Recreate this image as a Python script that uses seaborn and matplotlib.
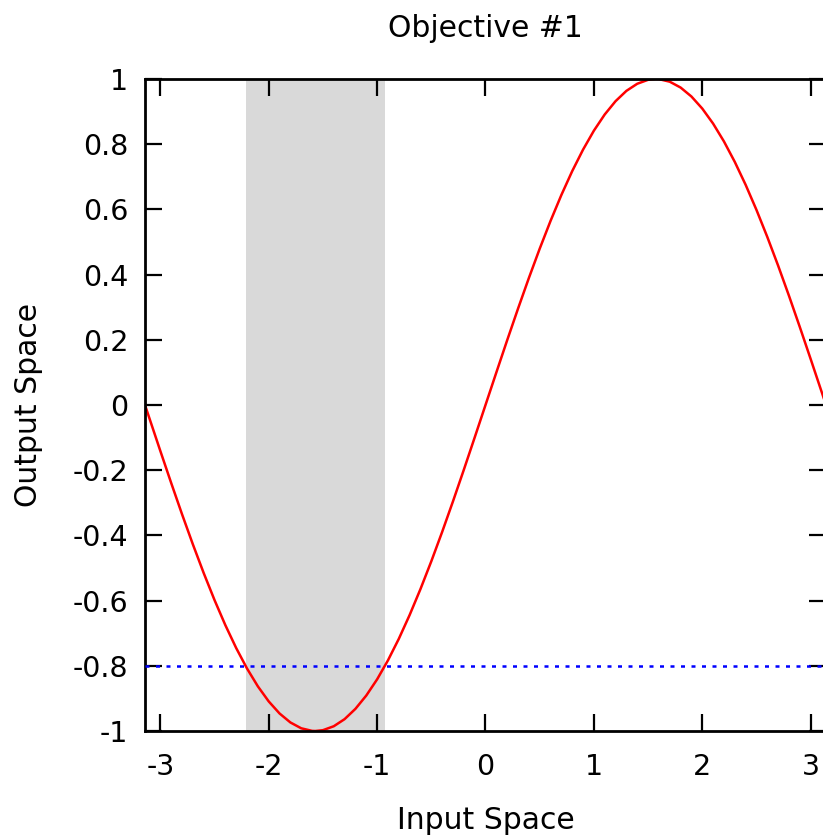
import matplotlib
matplotlib.use('Agg')
import matplotlib.pyplot as plt
import seaborn as sns

# curve values
x_vals = [-3.1416, -3.1, -3.0, -2.9, -2.8, -2.7, -2.6, -2.5, -2.4, -2.3, -2.2, -2.1,
          -2.0, -1.9, -1.8, -1.7, -1.6, -1.5708, -1.5, -1.4, -1.3, -1.2, -1.1, -1.0,
          -0.9, -0.8, -0.7, -0.6, -0.5, -0.4, -0.3, -0.2, -0.1, 0.0,
          0.1, 0.2, 0.3, 0.4, 0.5, 0.6, 0.7, 0.8, 0.9, 1.0, 1.1, 1.2, 1.3, 1.4, 1.5,
          1.5708, 1.6, 1.7, 1.8, 1.9, 2.0, 2.1, 2.2, 2.3, 2.4, 2.5, 2.6, 2.7, 2.8,
          2.9, 3.0, 3.1, 3.1416]
y_vals = [0.0, -0.0416, -0.1411, -0.2392, -0.3350, -0.4274, -0.5155, -0.5985, -0.6755, -0.7457,
          -0.8085, -0.8632, -0.9093, -0.9463, -0.9738, -0.9917, -0.9996, -1.0, -0.9975, -0.9854,
          -0.9636, -0.9320, -0.8912, -0.8415, -0.7833, -0.7174, -0.6442, -0.5646, -0.4794,
          -0.3894, -0.2955, -0.1987, -0.0998, 0.0,
          0.0998, 0.1987, 0.2955, 0.3894, 0.4794, 0.5646, 0.6442, 0.7174, 0.7833, 0.8415,
          0.8912, 0.9320, 0.9636, 0.9854, 0.9975, 1.0, 0.9996, 0.9917, 0.9738, 0.9463,
          0.9093, 0.8632, 0.8085, 0.7457, 0.6755, 0.5985, 0.5155, 0.4274, 0.3350, 0.2392,
          0.1411, 0.0416, 0.0]

threshold = -0.8
shade_lo, shade_hi = -2.214, -0.927
x_lim = (-3.1416, 3.1416)
x_ticks = [-3, -2, -1, 0, 1, 2, 3]
y_ticks = [-1, -0.8, -0.6, -0.4, -0.2, 0, 0.2, 0.4, 0.6, 0.8, 1]
y_ticklabels = ['-1', '-0.8', '-0.6', '-0.4', '-0.2', '0', '0.2', '0.4', '0.6', '0.8', '1']

sns.set_theme(style='ticks')
plt.rcParams['font.family'] = ['DejaVu Sans']
plt.rcParams['text.color'] = 'black'
plt.rcParams['axes.labelcolor'] = 'black'

fig = plt.figure(figsize=(8.23, 8.38), dpi=100)
ax = fig.add_axes([145 / 823, 107 / 838, 681 / 823, 652 / 838])

ax.axvspan(shade_lo, shade_hi, color='#d9d9d9', lw=0, zorder=0)
sns.lineplot(x=x_vals, y=y_vals, color='red', linewidth=1.8, ax=ax, zorder=2)
ax.axhline(threshold, color='blue', linewidth=1.8, linestyle=(0, (1.6, 2.6)), zorder=3)

ax.set_xlim(*x_lim)
ax.set_ylim(-1, 1)
ax.set_xticks(x_ticks)
ax.set_xticklabels([str(t) for t in x_ticks])
ax.set_yticks(y_ticks)
ax.set_yticklabels(y_ticklabels)

for s in ax.spines.values():
    s.set_linewidth(2)
    s.set_color('black')
ax.tick_params(direction='in', length=12.5, width=1.6, labelsize=20.5, colors='black',
               top=True, right=True)
ax.tick_params(axis='x', pad=16)
ax.tick_params(axis='y', pad=12)

ax.set_title('Objective #1', fontsize=21.5, pad=30, color='black')
ax.set_xlabel('Input Space', fontsize=21.5, labelpad=18)
ax.set_ylabel('Output Space', fontsize=21.5, labelpad=21)

fig.savefig('out.png', dpi=100)
